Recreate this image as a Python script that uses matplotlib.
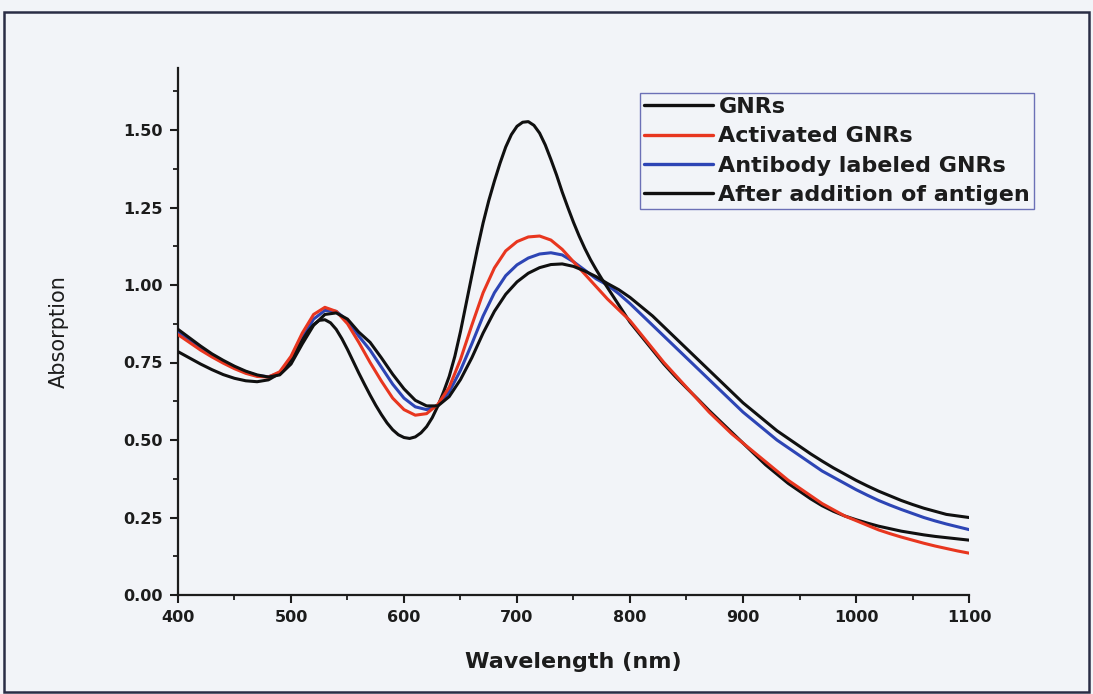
import matplotlib
matplotlib.use("Agg")
import matplotlib.pyplot as plt
from matplotlib.patches import Rectangle
from matplotlib.ticker import MultipleLocator

# UV-Vis-NIR absorption spectra of gold nanorods at each functionalisation step

# bare nanorods, sampled more finely across the two plasmon bands
gnrs_wavelength = (list(range(400, 490, 10)) + list(range(490, 800, 5))
                   + list(range(800, 1101, 10)))
gnrs = [
    0.785, 0.765, 0.745, 0.727, 0.711, 0.699, 0.691, 0.688, 0.694,
    0.715, 0.735, 0.760, 0.790, 0.822, 0.850, 0.872, 0.886, 0.888, 0.878,
    0.857, 0.827, 0.792, 0.754, 0.716, 0.680, 0.645, 0.612, 0.582, 0.555,
    0.533, 0.517, 0.508, 0.505, 0.510, 0.523, 0.543, 0.572, 0.610, 0.655,
    0.705, 0.770, 0.850, 0.940, 1.030, 1.118, 1.200, 1.272, 1.335, 1.393,
    1.445, 1.485, 1.512, 1.525, 1.527, 1.515, 1.490, 1.452, 1.405, 1.355,
    1.300, 1.250, 1.202, 1.158, 1.118, 1.082, 1.050, 1.020, 0.992, 0.964,
    0.936, 0.908,
    0.880, 0.835, 0.790, 0.745, 0.705, 0.668, 0.632, 0.595, 0.560, 0.525,
    0.490, 0.455, 0.420, 0.390, 0.360, 0.335, 0.310, 0.288, 0.270, 0.255,
    0.243, 0.232, 0.222, 0.214, 0.206, 0.200, 0.194, 0.189, 0.185, 0.181,
    0.177,
]

# the three modified samples share a 10 nm grid
wavelength = list(range(400, 1101, 10))

activated = [
    0.840, 0.815, 0.790, 0.768, 0.748, 0.730, 0.715, 0.705, 0.703, 0.720,
    0.770, 0.845, 0.905, 0.928, 0.915, 0.875, 0.815, 0.750, 0.690, 0.635,
    0.598, 0.580, 0.585, 0.615, 0.670, 0.760, 0.870, 0.975, 1.055, 1.110,
    1.140, 1.155, 1.158, 1.145, 1.115, 1.075, 1.035, 0.995, 0.955, 0.920,
    0.885, 0.840, 0.795, 0.750, 0.710, 0.670, 0.630, 0.590, 0.555, 0.520,
    0.490, 0.460, 0.430, 0.400, 0.370, 0.345, 0.320, 0.295, 0.275, 0.255,
    0.240, 0.225, 0.210, 0.198, 0.187, 0.177, 0.167, 0.158, 0.150, 0.142,
    0.135,
]

antibody = [
    0.848, 0.820, 0.795, 0.772, 0.752, 0.735, 0.720, 0.708, 0.704, 0.716,
    0.760, 0.830, 0.890, 0.918, 0.915, 0.885, 0.835, 0.790, 0.735, 0.680,
    0.635, 0.607, 0.598, 0.612, 0.655, 0.725, 0.810, 0.900, 0.975, 1.030,
    1.065, 1.087, 1.100, 1.104, 1.097, 1.075, 1.048, 1.020, 1.000, 0.972,
    0.940, 0.905, 0.870, 0.835, 0.800, 0.765, 0.730, 0.695, 0.660, 0.625,
    0.590, 0.560, 0.530, 0.500, 0.475, 0.450, 0.425, 0.400, 0.380, 0.360,
    0.340, 0.322, 0.305, 0.290, 0.276, 0.263, 0.250, 0.239, 0.229, 0.220,
    0.211,
]

antigen = [
    0.857, 0.830, 0.803, 0.778, 0.757, 0.738, 0.722, 0.710, 0.703, 0.710,
    0.745, 0.810, 0.870, 0.905, 0.910, 0.890, 0.848, 0.815, 0.765, 0.712,
    0.665, 0.628, 0.610, 0.610, 0.640, 0.695, 0.765, 0.845, 0.915, 0.970,
    1.010, 1.038, 1.056, 1.066, 1.068, 1.060, 1.045, 1.027, 1.005, 0.985,
    0.960, 0.930, 0.900, 0.865, 0.830, 0.795, 0.760, 0.725, 0.690, 0.655,
    0.620, 0.590, 0.560, 0.530, 0.505, 0.480, 0.455, 0.432, 0.410, 0.390,
    0.370, 0.352, 0.335, 0.320, 0.305, 0.292, 0.280, 0.270, 0.260, 0.255,
    0.250,
]

series_labels = ["GNRs", "Activated GNRs", "Antibody labeled GNRs",
                 "After addition of antigen"]
series_colors = ["#101010", "#e8361f", "#2d45b5", "#101010"]

x_ticks = [400, 500, 600, 700, 800, 900, 1000, 1100]
y_ticks = [0.00, 0.25, 0.50, 0.75, 1.00, 1.25, 1.50]

W, H = 1093, 694
bg = "#f2f4f8"
ink = "#1c1c1c"
plt.rcParams["font.family"] = ["DejaVu Sans"]

fig = plt.figure(figsize=(W / 100, H / 100), dpi=100, facecolor=bg)
ax = fig.add_axes([178 / W, 1 - 595 / H, (969 - 178) / W, (595 - 68) / H])
ax.set_facecolor(bg)

xs = [gnrs_wavelength, wavelength, wavelength, wavelength]
ys = [gnrs, activated, antibody, antigen]
orders = [4, 5, 3, 6]
for x, y, lab, col, z in zip(xs, ys, series_labels, series_colors, orders):
    ax.plot(x, y, color=col, lw=2.2, label=lab, zorder=z,
            solid_capstyle="round", solid_joinstyle="round")

ax.set_xlim(400, 1100)
ax.set_ylim(0, 1.70)
ax.set_xticks(x_ticks)
ax.set_yticks(y_ticks)
ax.set_yticklabels([f"{v:.2f}" for v in y_ticks])
ax.xaxis.set_minor_locator(MultipleLocator(50))
ax.yaxis.set_minor_locator(MultipleLocator(0.125))

for side in ("top", "right"):
    ax.spines[side].set_visible(False)
for side in ("left", "bottom"):
    ax.spines[side].set_linewidth(1.6)
    ax.spines[side].set_color(ink)

ax.tick_params(which="major", direction="out", length=6, width=1.5,
               color=ink, labelsize=11.5, labelcolor=ink, pad=5)
ax.tick_params(which="minor", direction="out", length=3.5, width=1.3,
               color=ink)
for lbl in ax.get_xticklabels() + ax.get_yticklabels():
    lbl.set_fontweight("bold")

ax.set_xlabel("Wavelength (nm)", fontsize=16, fontweight="bold", color=ink,
              labelpad=19)
ax.set_ylabel("Absorption", fontsize=15, color=ink, labelpad=39)

leg = fig.legend(loc="upper left", bbox_to_anchor=(640 / W, 1 - 93 / H),
                 frameon=True, fancybox=False, borderaxespad=0,
                 prop={"size": 16, "weight": "bold"}, handlelength=3.1,
                 handletextpad=0.25, labelspacing=0.42, borderpad=0.18,
                 facecolor=bg, edgecolor="#4b4fa6")
leg.get_frame().set_linewidth(1.0)
for txt in leg.get_texts():
    txt.set_color(ink)
for h in leg.legend_handles:
    h.set_linewidth(2.4)

fig.patches.append(Rectangle((4 / W, 2 / H), (1089 - 4) / W, (682 - 2) / H,
                             transform=fig.transFigure, fill=False,
                             edgecolor="#2a2d45", lw=1.8))

fig.savefig("out.png", dpi=100, facecolor=bg)
